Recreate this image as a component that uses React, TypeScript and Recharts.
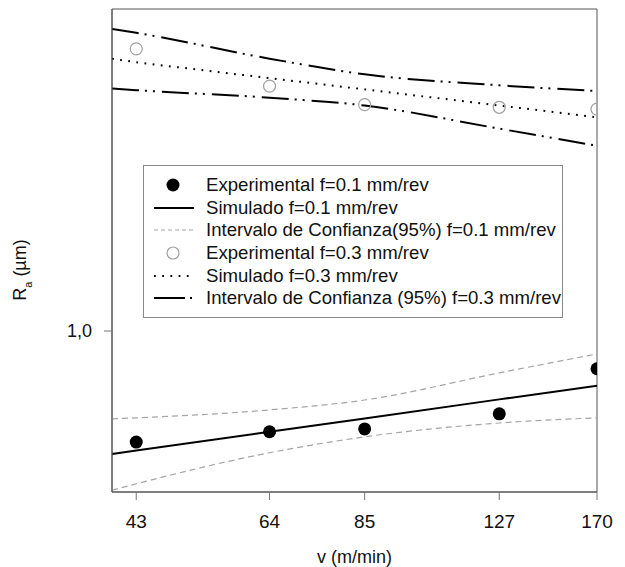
import React from "react";
import {
  ComposedChart,
  Line,
  Scatter,
  XAxis,
  YAxis,
  Legend,
  ReferenceArea,
} from "recharts";

// Cutting speed (m/min) where the fitted curves are sampled, and where measurements exist
const V_FIT = [40, 43, 64, 85, 127, 170];
const V_EXP = [43, 64, 85, 127, 170];
const V_TICKS = [43, 64, 85, 127, 170];

// f = 0.1 mm/rev
const RA_EXP_01 = [0.62, 0.648, 0.656, 0.7, 0.85];
const RA_SIM_01 = [0.589, 0.598, 0.648, 0.686, 0.745, 0.79];
const RA_CI_UP_01 = [0.685, 0.688, 0.712, 0.743, 0.835, 0.906];
const RA_CI_DOWN_01 = [0.504, 0.518, 0.592, 0.634, 0.673, 0.688];

// f = 0.3 mm/rev
const RA_EXP_03 = [3.37, 2.87, 2.65, 2.62, 2.6];
const RA_SIM_03 = [3.23, 3.18, 2.97, 2.83, 2.64, 2.51];
const RA_CI_UP_03 = [3.67, 3.61, 3.23, 3.02, 2.88, 2.81];
const RA_CI_DOWN_03 = [2.84, 2.82, 2.73, 2.64, 2.39, 2.22];

const fitRows = V_FIT.map((v, i) => ({
  v,
  sim01: RA_SIM_01[i],
  up01: RA_CI_UP_01[i],
  down01: RA_CI_DOWN_01[i],
  sim03: RA_SIM_03[i],
  up03: RA_CI_UP_03[i],
  down03: RA_CI_DOWN_03[i],
}));
const exp01Rows = V_EXP.map((v, i) => ({ v, ra: RA_EXP_01[i] }));
const exp03Rows = V_EXP.map((v, i) => ({ v, ra: RA_EXP_03[i] }));

const FONT = "'Liberation Sans', Arial, sans-serif";
const colors = {
  ink: "#111",
  frame: "#555",
  tick: "#777",
  ciLow: "#a5a5a5",
  openDot: "#a0a0a0",
};
const DASH_CI_01 = "6 4";
const DASH_SIM_03 = "1.8 6.4";
const DASH_CI_03 = "27 6 2 6 2 7";

const legendItems = [
  { name: "Experimental f=0.1 mm/rev", kind: "dot" },
  { name: "Simulado f=0.1 mm/rev", kind: "solid" },
  { name: "Intervalo de Confianza(95%) f=0.1 mm/rev", kind: "dashed" },
  { name: "Experimental f=0.3 mm/rev", kind: "open" },
  { name: "Simulado f=0.3 mm/rev", kind: "dotted" },
  { name: "Intervalo de Confianza (95%) f=0.3 mm/rev", kind: "dashdot" },
];

function LegendSymbol({ kind }: { kind: string }) {
  const y = 11;
  switch (kind) {
    case "dot":
      return <circle cx={29} cy={y} r={6.5} fill="#000" />;
    case "open":
      return <circle cx={29} cy={y} r={6} fill="#fff" stroke={colors.openDot} strokeWidth={1.2} />;
    case "solid":
      return <line x1={10} x2={50} y1={y} y2={y} stroke="#000" strokeWidth={2} />;
    case "dashed":
      return <line x1={10} x2={50} y1={y} y2={y} stroke={colors.ciLow} strokeWidth={1.2} strokeDasharray="4 3" />;
    case "dotted":
      return <line x1={10} x2={50} y1={y} y2={y} stroke="#000" strokeWidth={2} strokeDasharray={DASH_SIM_03} />;
    default:
      return <line x1={10} x2={50} y1={y} y2={y} stroke="#000" strokeWidth={2} strokeDasharray="31 5 2 100" />;
  }
}

function LegendBox() {
  return (
    <div
      style={{
        width: 420,
        height: 153,
        boxSizing: "border-box",
        border: "1px solid #888",
        paddingTop: 8,
        background: "#fff",
        fontFamily: FONT,
        fontSize: 18.6,
        color: colors.ink,
      }}
    >
      {legendItems.map((item) => (
        <div key={item.name} style={{ display: "flex", alignItems: "center", height: 22.6 }}>
          <svg width={62} height={22} style={{ flex: "none" }}>
            <LegendSymbol kind={item.kind} />
          </svg>
          <span style={{ whiteSpace: "nowrap", lineHeight: "22px" }}>{item.name}</span>
        </div>
      ))}
    </div>
  );
}

function YTitle() {
  return (
    <text
      x={26}
      y={270}
      transform="rotate(-90, 26, 270)"
      textAnchor="middle"
      fontSize={18}
      fontFamily={FONT}
      fill={colors.ink}
    >
      <tspan>R</tspan>
      <tspan dy={6} fontSize={11}>a</tspan>
      <tspan dy={-6}> (µm)</tspan>
    </text>
  );
}

export default function App() {
  return (
    <div style={{ position: "absolute", left: 0, top: 0, background: "#fff", fontFamily: FONT }}>
      <ComposedChart
        width={625}
        height={567}
        data={fitRows}
        margin={{ top: 9, right: 28, bottom: 5, left: 52 }}
      >
        <XAxis
          dataKey="v"
          type="number"
          scale="log"
          domain={[40, 170]}
          allowDataOverflow
          ticks={V_TICKS}
          height={70}
          tickSize={8}
          tickMargin={15}
          axisLine={{ stroke: colors.frame }}
          tickLine={{ stroke: colors.tick }}
          tick={{ fill: colors.ink, fontSize: 19, fontFamily: FONT }}
          label={{
            value: "v (m/min)",
            position: "insideBottom",
            offset: -1,
            fill: colors.ink,
            fontSize: 18,
            fontFamily: FONT,
          }}
        />
        <YAxis
          type="number"
          scale="log"
          domain={[0.5, 4]}
          allowDataOverflow
          ticks={[1]}
          width={60}
          tickSize={8}
          tickMargin={12}
          tickFormatter={(val: number) => val.toFixed(1).replace(".", ",")}
          axisLine={{ stroke: colors.frame }}
          tickLine={{ stroke: colors.tick }}
          tick={{ fill: colors.ink, fontSize: 18, fontFamily: FONT }}
          label={<YTitle />}
        />
        <ReferenceArea
          x1={40}
          x2={170}
          y1={0.5}
          y2={4}
          fill="none"
          fillOpacity={0}
          stroke={colors.frame}
          strokeWidth={1}
        />
        <Legend
          layout="vertical"
          verticalAlign="middle"
          align="center"
          content={() => <LegendBox />}
          wrapperStyle={{ left: 143, top: 165, width: 420, height: 153 }}
        />

        {/* f = 0.1 mm/rev */}
        <Line
          type="monotone"
          dataKey="up01"
          stroke={colors.ciLow}
          strokeWidth={1.2}
          strokeDasharray={DASH_CI_01}
          dot={false}
          isAnimationActive={false}
        />
        <Line
          type="monotone"
          dataKey="down01"
          stroke={colors.ciLow}
          strokeWidth={1.2}
          strokeDasharray={DASH_CI_01}
          dot={false}
          isAnimationActive={false}
        />
        <Line
          type="linear"
          dataKey="sim01"
          stroke="#000"
          strokeWidth={2}
          dot={false}
          isAnimationActive={false}
        />
        <Scatter
          data={exp01Rows}
          dataKey="ra"
          isAnimationActive={false}
          shape={(p: any) => <circle cx={p.cx} cy={p.cy} r={6.5} fill="#000" />}
        />

        {/* f = 0.3 mm/rev */}
        <Line
          type="monotone"
          dataKey="up03"
          stroke="#000"
          strokeWidth={2}
          strokeDasharray={DASH_CI_03}
          dot={false}
          isAnimationActive={false}
        />
        <Line
          type="monotone"
          dataKey="down03"
          stroke="#000"
          strokeWidth={2}
          strokeDasharray={DASH_CI_03}
          dot={false}
          isAnimationActive={false}
        />
        <Line
          type="linear"
          dataKey="sim03"
          stroke="#000"
          strokeWidth={2}
          strokeDasharray={DASH_SIM_03}
          dot={false}
          isAnimationActive={false}
        />
        <Scatter
          data={exp03Rows}
          dataKey="ra"
          isAnimationActive={false}
          shape={(p: any) => (
            <circle cx={p.cx} cy={p.cy} r={6} fill="none" stroke={colors.openDot} strokeWidth={1.2} />
          )}
        />
      </ComposedChart>
    </div>
  );
}
